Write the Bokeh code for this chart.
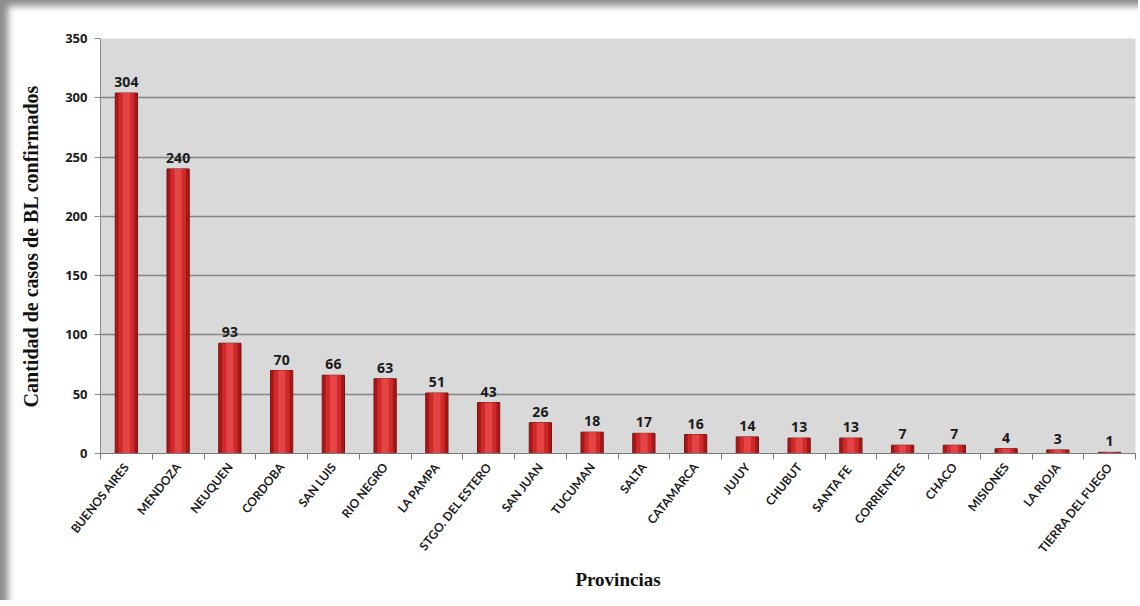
from bokeh.plotting import figure
from bokeh.models import ColumnDataSource, FixedTicker, Range1d
from bokeh.core.properties import value
from bokeh.embed import file_html
from bokeh.resources import INLINE

provincias = ["BUENOS AIRES", "MENDOZA", "NEUQUEN", "CORDOBA", "SAN LUIS", "RIO NEGRO",
              "LA PAMPA", "STGO. DEL ESTERO", "SAN JUAN", "TUCUMAN", "SALTA", "CATAMARCA",
              "JUJUY", "CHUBUT", "SANTA  FE", "CORRIENTES", "CHACO", "MISIONES", "LA RIOJA",
              "TIERRA DEL FUEGO"]
casos = [304, 240, 93, 70, 66, 63, 51, 43, 26, 18, 17, 16, 14, 13, 13, 7, 7, 4, 3, 1]
y_ticks = [0, 50, 100, 150, 200, 250, 300, 350]

n = len(provincias)
pos = [i + 0.5 for i in range(n)]
src = ColumnDataSource(dict(x=pos, y=casos, lbl=[str(v) for v in casos], name=provincias))

p = figure(width=1138, height=600, output_backend="svg", toolbar_location=None,
           x_range=Range1d(0, n), y_range=Range1d(0, 350),
           min_border_left=100, min_border_right=3, min_border_top=38, min_border_bottom=147)
p.background_fill_color = "#d9d9d9"
p.border_fill_color = None
p.outline_line_color = None
p.styles = {"background-color": "white",
            "box-shadow": "inset 10px 8px 7px -2px #8c8c8c"}

# bars
p.vbar(x="x", top="y", width=0.43, bottom=0, source=src,
       fill_color="#a81818", line_color="#7d1212", line_width=1)
p.vbar(x="x", top="y", width=0.30, bottom=0, source=src,
       fill_color="#cf2a2a", line_color=None)
p.vbar(x="x", top="y", width=0.14, bottom=0, source=src,
       fill_color="#e54444", line_color=None)

p.text(x="x", y="y", text="lbl", source=src, text_align="center", text_baseline="bottom",
       y_offset=-6, text_font=value("Open Sans"), text_font_style="bold",
       text_font_size="14px", text_color="#1a1a1a")

# grid
p.xgrid.grid_line_color = None
p.ygrid.ticker = FixedTicker(ticks=y_ticks)
p.ygrid.grid_line_color = "#858585"
p.ygrid.grid_line_width = 1.3

# y axis
p.yaxis.ticker = FixedTicker(ticks=y_ticks)
p.yaxis.axis_line_color = "#8c8c8c"
p.yaxis.major_tick_line_color = "#8c8c8c"
p.yaxis.major_tick_out = 6
p.yaxis.major_tick_in = 0
p.yaxis.minor_tick_line_color = None
p.yaxis.major_label_text_font = "Open Sans"
p.yaxis.major_label_text_font_style = "bold"
p.yaxis.major_label_text_font_size = "13px"
p.yaxis.major_label_text_color = "#1a1a1a"
p.yaxis.major_label_standoff = 7
p.yaxis.axis_label = "Cantidad de casos de BL confirmados"
p.yaxis.axis_label_text_font = "Liberation Serif"
p.yaxis.axis_label_text_font_style = "bold"
p.yaxis.axis_label_text_font_size = "20px"
p.yaxis.axis_label_text_color = "#111111"
p.yaxis.axis_label_standoff = 20

# x axis
p.xaxis.ticker = FixedTicker(ticks=pos, minor_ticks=list(range(n + 1)))
p.xaxis.major_label_overrides = {x: name for x, name in zip(pos, provincias)}
p.xaxis.major_tick_line_color = None
p.xaxis.minor_tick_line_color = "#7a7a7a"
p.xaxis.minor_tick_out = 6
p.xaxis.minor_tick_in = 0
p.xaxis.axis_line_color = "#7a7a7a"
p.xaxis.major_label_orientation = 0.9
p.xaxis.major_label_text_font = "Lato"
p.xaxis.major_label_text_font_style = "bold"
p.xaxis.major_label_text_font_size = "12px"
p.xaxis.major_label_text_color = "#1a1a1a"
p.xaxis.major_label_standoff = 5
p.xaxis.axis_label = "Provincias"
p.xaxis.axis_label_text_font = "Liberation Serif"
p.xaxis.axis_label_text_font_style = "bold"
p.xaxis.axis_label_text_font_size = "19px"
p.xaxis.axis_label_text_color = "#111111"
p.xaxis.axis_label_standoff = 6

open("out.html", "w").write(file_html(p, INLINE))
